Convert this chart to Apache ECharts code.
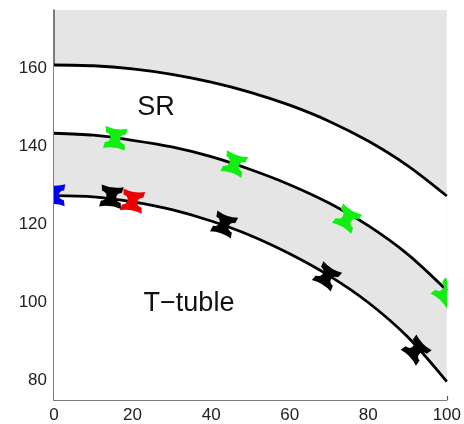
<!DOCTYPE html>
<html>
<head>
<meta charset="utf-8">
<script src="https://cdn.jsdelivr.net/npm/echarts@6/dist/echarts.min.js"></script>
<style>
  html, body { margin: 0; padding: 0; background: #fff; }
  #chart { width: 464px; height: 424px; }
</style>
</head>
<body>
<div id="chart"></div>
<script>
// Sample positions along the x axis shared by the three boundary curves
const curveX = [0, 10, 20, 30, 40, 50, 60, 70, 80, 90, 100];
// Outer boundary, SR boundary and T-tubule boundary
const upperCurve  = [160.9, 160.7, 159.9, 158.5, 156.5, 153.9, 150.6, 146.5, 141.4, 135.1, 127.3];
const middleCurve = [143.4, 142.9, 141.6, 139.9, 137.4, 134.1, 130.2, 125.5, 119.7, 112.4, 103.1];
const lowerCurve  = [127.4, 127.1, 125.8, 123.8, 120.9, 117.2, 112.5, 106.9, 100.0, 91.2, 79.7];

// Measured points (x, y) sitting on the boundaries
const greenPoints = [[15.6, 142.1], [45.9, 135.5], [74.6, 121.5], [99.8, 102.5]];
const blackPoints = [[14.6, 127.1], [43.3, 120.0], [69.5, 106.7], [92.2, 87.8]];
const redPoints   = [[20.0, 126.0]];
const bluePoints  = [[0, 127.6]];

// Axis ticks
const xTicks = [0, 20, 40, 60, 80, 100];
const yTicks = [80, 100, 120, 140, 160];

// Region names
const regionNames = ['SR', 'T\u2212tuble'];

const FONT = "'Liberation Sans', Arial, Helvetica, sans-serif";
const GREY = '#e5e5e5';
const AXIS = '#555';
// Error-bar style glyph: two flared caps joined by a waist
const HOURGLASS = 'M0,0 Q11,3.5 22,0 L21,6 C16.5,7 16,9 16,11 C16,13 16.5,15 21,16 L22,22 ' +
                  'Q11,18.5 0,22 L1,16 C5.5,15 6,13 6,11 C6,9 5.5,7 1,6 Z';

function pairs(ys) { return curveX.map((x, i) => [x, ys[i]]); }

// Tangent angle (screen radians) of a curve at a given x, from its sample points
function tangentAngle(curve, x, api) {
  const pts = curveX.map((cx, i) => api.coord([cx, curve[i]]));
  const n = pts.length;
  const slopes = pts.map((p, i) => {
    const a = pts[Math.max(0, i - 1)], b = pts[Math.min(n - 1, i + 1)];
    return (b[1] - a[1]) / (b[0] - a[0]);
  });
  let k = 0;
  while (k < n - 2 && curveX[k + 1] < x) k++;
  const t = Math.min(1, Math.max(0, (x - curveX[k]) / (curveX[k + 1] - curveX[k])));
  const m = slopes[k] * (1 - t) + slopes[k + 1] * t;
  return Math.atan(m);
}

function markerSeries(points, curve, color) {
  return {
    type: 'custom',
    data: points,
    encode: { x: 0, y: 1 },
    clip: true,
    z: 5,
    renderItem: function (params, api) {
      const x = api.value(0), y = api.value(1);
      const p = api.coord([x, y]);
      const ang = tangentAngle(curve, x, api);
      const w = 22, h = 22;
      return {
        type: 'path',
        x: p[0], y: p[1],
        rotation: -ang,
        shape: { pathData: HOURGLASS, x: -w / 2, y: -h / 2, width: w, height: h },
        style: { fill: color }
      };
    }
  };
}

function boundary(ys, fill) {
  return {
    type: 'line',
    data: pairs(ys),
    smooth: 0.3,
    symbol: 'none',
    lineStyle: { color: '#000', width: 2.8 },
    areaStyle: { color: fill, opacity: 1, origin: 'start' },
    z: 2
  };
}

const chart = echarts.init(document.getElementById('chart'), null, { renderer: 'canvas' });
chart.setOption({
  animation: false,
  backgroundColor: '#fff',
  grid: {
    left: 54, right: 16, top: 10, bottom: 21,
    show: true, backgroundColor: GREY, borderWidth: 0
  },
  xAxis: {
    type: 'value', min: 0, max: 100, interval: 20,
    axisLine: { lineStyle: { color: AXIS, width: 1.5 } },
    axisTick: { inside: true, length: 4, lineStyle: { color: AXIS, width: 1.2 } },
    axisLabel: {
      customValues: xTicks,
      color: '#222', fontSize: 17, fontFamily: FONT, margin: 7
    },
    splitLine: { show: false }
  },
  yAxis: {
    type: 'value', min: 75, max: 175,
    axisLine: { show: true, lineStyle: { color: AXIS, width: 1.5 } },
    axisTick: { show: true, inside: true, length: 4, customValues: yTicks, lineStyle: { color: AXIS, width: 1.2 } },
    axisLabel: {
      customValues: yTicks,
      color: '#222', fontSize: 17, fontFamily: FONT, margin: 7
    },
    splitLine: { show: false }
  },
  graphic: [
    { type: 'text', x: 156, y: 108, z: 10,
      style: { text: regionNames[0], font: '27px ' + FONT, fill: '#111', align: 'center', verticalAlign: 'middle' } },
    { type: 'text', x: 189, y: 304, z: 10,
      style: { text: regionNames[1], font: '27px ' + FONT, fill: '#111', align: 'center', verticalAlign: 'middle' } }
  ],
  series: [
    boundary(upperCurve, '#fff'),
    boundary(middleCurve, GREY),
    boundary(lowerCurve, '#fff'),
    markerSeries(bluePoints, lowerCurve, '#0000ee'),
    markerSeries(blackPoints, lowerCurve, '#000'),
    markerSeries(redPoints, lowerCurve, '#ee0000'),
    markerSeries(greenPoints, middleCurve, '#11ee11')
  ]
});
</script>
</body>
</html>
